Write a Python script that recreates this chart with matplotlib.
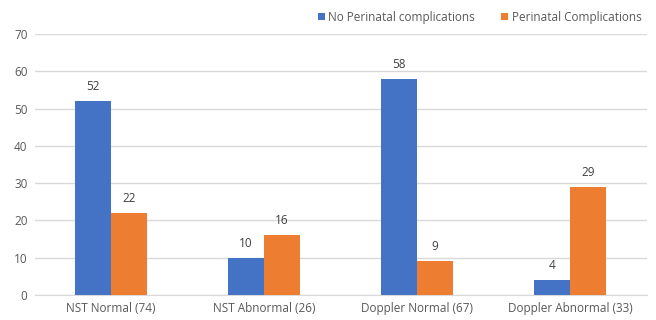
import matplotlib
matplotlib.use("Agg")
import matplotlib.pyplot as plt
import numpy as np

plt.rcParams['font.family'] = ['Open Sans', 'DejaVu Sans']

categories = ["NST Normal (74)", "NST Abnormal (26)", "Doppler Normal (67)", "Doppler Abnormal (33)"]
no_complications = [52, 10, 58, 4]
complications = [22, 16, 9, 29]
series_names = ["No Perinatal complications", "Perinatal Complications"]

blue = "#4472C4"
orange = "#ED7D31"
text_col = "#595959"
grid_col = "#D9D9D9"

fig = plt.figure(figsize=(6.56, 3.2), dpi=100)
ax = fig.add_axes([34.5 / 656, 25 / 320, 612 / 656, 261 / 320])

x = np.arange(len(categories))
w = 0.235
b1 = ax.bar(x - w / 2, no_complications, w, color=blue, label=series_names[0], zorder=3)
b2 = ax.bar(x + w / 2, complications, w, color=orange, label=series_names[1], zorder=3)

for bars, vals in ((b1, no_complications), (b2, complications)):
    for rect, v in zip(bars, vals):
        ax.text(rect.get_x() + rect.get_width() / 2, v + 2.2, str(v),
                ha="center", va="bottom", fontsize=8.5, color="#404040")

ax.set_xlim(-0.5, len(categories) - 0.5)
ax.set_ylim(0, 70)
ax.set_yticks(range(0, 71, 10))
ax.set_xticks(x)
ax.set_xticklabels(categories)
ax.tick_params(axis="both", length=0, labelsize=8.5, colors=text_col)
ax.tick_params(axis="x", pad=5)
ax.tick_params(axis="y", pad=5)
ax.yaxis.grid(True, color=grid_col, linewidth=1, zorder=0)
for s in ["top", "right", "left"]:
    ax.spines[s].set_visible(False)
ax.spines["bottom"].set_color(grid_col)

leg = fig.legend(handles=[b1, b2], loc="upper right", bbox_to_anchor=(652 / 656, 1.0),
                 ncol=2, frameon=False, fontsize=8.5, handlelength=0.6, handleheight=0.6,
                 handletextpad=0.3, columnspacing=2.2)
for t in leg.get_texts():
    t.set_color(text_col)

fig.savefig("out.png", dpi=100)
